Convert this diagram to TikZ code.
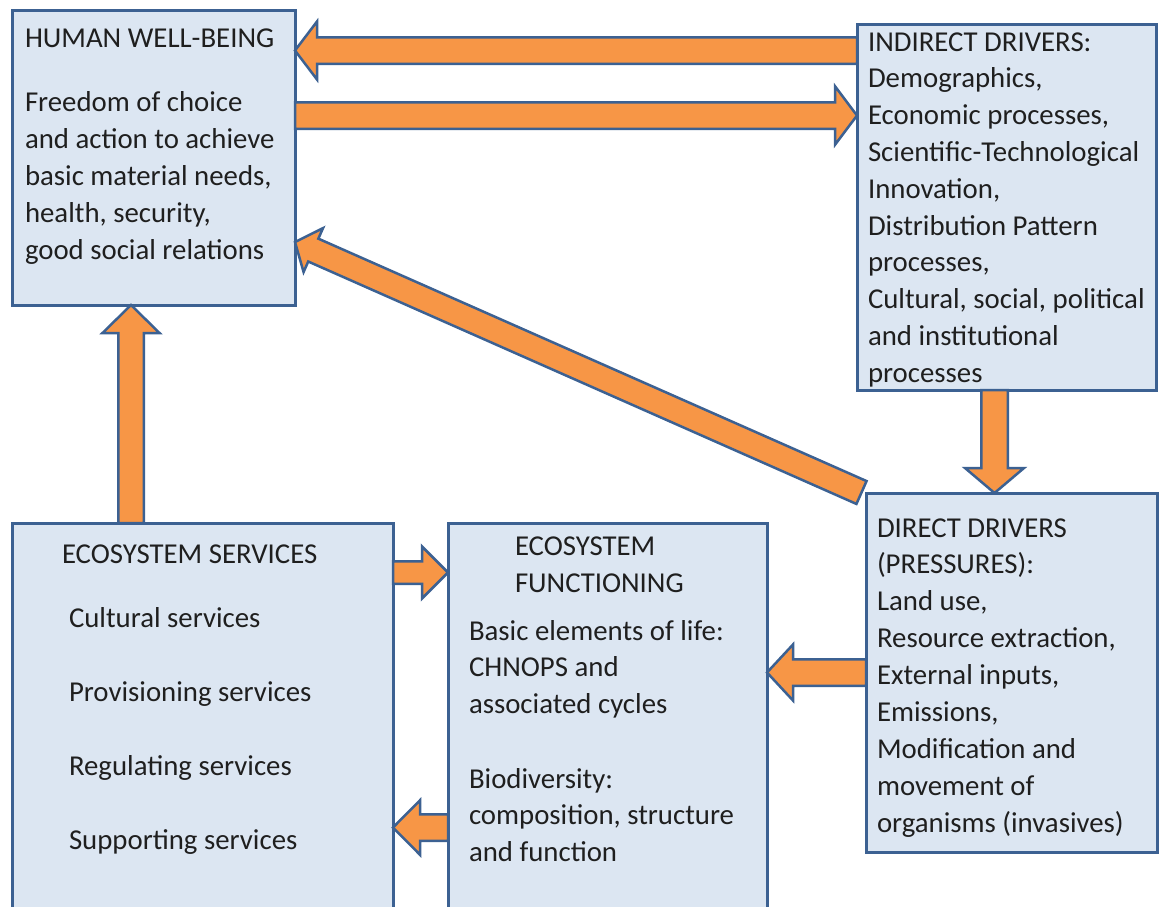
\documentclass[tikz,border=0pt]{standalone}
\usepackage{fontspec}
\setmainfont{Carlito}
\usetikzlibrary{calc}
\definecolor{boxfill}{HTML}{DCE6F2}
\definecolor{boxline}{HTML}{3C6192}
\definecolor{arrfill}{HTML}{F79646}
\tikzset{
  box/.style={draw=boxline, fill=boxfill, line width=3pt, inner sep=0pt, outer sep=0pt, anchor=north west},
  barrow/.style={draw=boxline, fill=arrfill, line width=2.5pt, line join=miter},
  txt/.style={font=\fontsize{28.8}{36.8}\selectfont, inner sep=0pt, outer sep=0pt, anchor=base west, text=black!88},
}
% name, from, to, shaft half width, head half width, head length
\newcommand\blockarrow[6]{%
  \coordinate (#1-h) at ($(#3)!#6!(#2)$);
  \draw[barrow] ($(#2)!#4!90:(#3)$) -- ($(#1-h)!#4!90:(#3)$) -- ($(#1-h)!#5!90:(#3)$)
    -- (#3) -- ($(#1-h)!#5!-90:(#3)$) -- ($(#1-h)!#4!-90:(#3)$) -- ($(#2)!#4!-90:(#3)$) -- cycle;
}
% prefix, x, first baseline, step, list of lines
\newcommand\textlines[5]{%
  \foreach \t [count=\i] in {#5} {\node[txt] (#1-\i) at (#2, {#3+#4*(\i-1)}) {\t};}
}
\begin{document}
\begin{tikzpicture}[x=1pt, y=-1pt]
\clip (0,0) rectangle (1165,906);
\fill[white] (0,0) rectangle (1165,906);

% boxes
\node[box, minimum width=283pt, minimum height=295pt] (hwb) at (12,10) {};
\node[box, minimum width=299pt, minimum height=366pt] (ind) at (857,24) {};
\node[box, minimum width=291pt, minimum height=359pt] (dir) at (866,493) {};
\node[box, minimum width=381pt, minimum height=430pt] (ess) at (12,523) {};
\node[box, minimum width=319pt, minimum height=430pt] (efn) at (448,523) {};

% connector end points
\coordinate (a1s) at (ind.west |- 0,50.5);
\coordinate (a1t) at (hwb.east |- 0,50.5);
\coordinate (a2s) at (hwb.east |- 0,115.5);
\coordinate (a2t) at (ind.west |- 0,115.5);
\coordinate (a3s) at (994.5,0 |- ind.south);
\coordinate (a3t) at (994.5,0 |- dir.north);
\coordinate (a4s) at ($(dir.north west)+(-4.5,-0.5)$);
\coordinate (a4t) at (hwb.east |- 0,242);
\coordinate (a5s) at (131,0 |- ess.north);
\coordinate (a5t) at (131,0 |- hwb.south);
\coordinate (a6s) at (ess.east |- 0,572.5);
\coordinate (a6t) at (efn.west |- 0,572.5);
\coordinate (a7s) at (dir.west |- 0,672.5);
\coordinate (a7t) at (efn.east |- 0,672.5);
\coordinate (a8s) at (efn.west |- 0,827.5);
\coordinate (a8t) at (ess.east |- 0,827.5);

% block arrows
\blockarrow{a1}{a1s}{a1t}{13.25pt}{29pt}{22pt}
\blockarrow{a2}{a2s}{a2t}{13.25pt}{29.25pt}{22pt}
\blockarrow{a3}{a3s}{a3t}{13.25pt}{29.5pt}{25pt}
\blockarrow{a4}{a4s}{a4t}{12.5pt}{24pt}{20pt}
\blockarrow{a5}{a5s}{a5t}{12.75pt}{28.5pt}{28pt}
\blockarrow{a6}{a6s}{a6t}{11.25pt}{26pt}{26pt}
\blockarrow{a7}{a7s}{a7t}{13.25pt}{28pt}{26pt}
\blockarrow{a8}{a8s}{a8t}{13.25pt}{27.25pt}{27pt}

% texts
\node[txt] (hwb-t) at (25,47) {HUMAN WELL-BEING};
\textlines{hwb-l}{25}{111}{37}{Freedom of choice, and action to achieve, {basic material needs,}, {health, security,}, good social relations}
\textlines{ind-l}{868}{51}{36.8}{INDIRECT DRIVERS:, {Demographics,}, {Economic processes,}, Scientific-Technological, {Innovation,}, Distribution Pattern, {processes,}, {Cultural, social, political}, and institutional, processes}
\textlines{dir-l}{877}{537}{36.9}{DIRECT DRIVERS, (PRESSURES):, {Land use,}, {Resource extraction,}, {External inputs,}, {Emissions,}, Modification and, movement of, organisms (invasives)}
\node[txt] (ess-t) at (62,563) {ECOSYSTEM SERVICES};
\textlines{ess-l}{69}{627}{74}{Cultural services, Provisioning services, Regulating services, Supporting services}
\textlines{efn-t}{515}{555}{37}{ECOSYSTEM, FUNCTIONING}
\textlines{efn-a}{469}{640}{36.7}{Basic elements of life:, CHNOPS and, associated cycles}
\textlines{efn-b}{469}{788}{36.7}{Biodiversity:, {composition, structure}, and function}
\end{tikzpicture}
\end{document}
